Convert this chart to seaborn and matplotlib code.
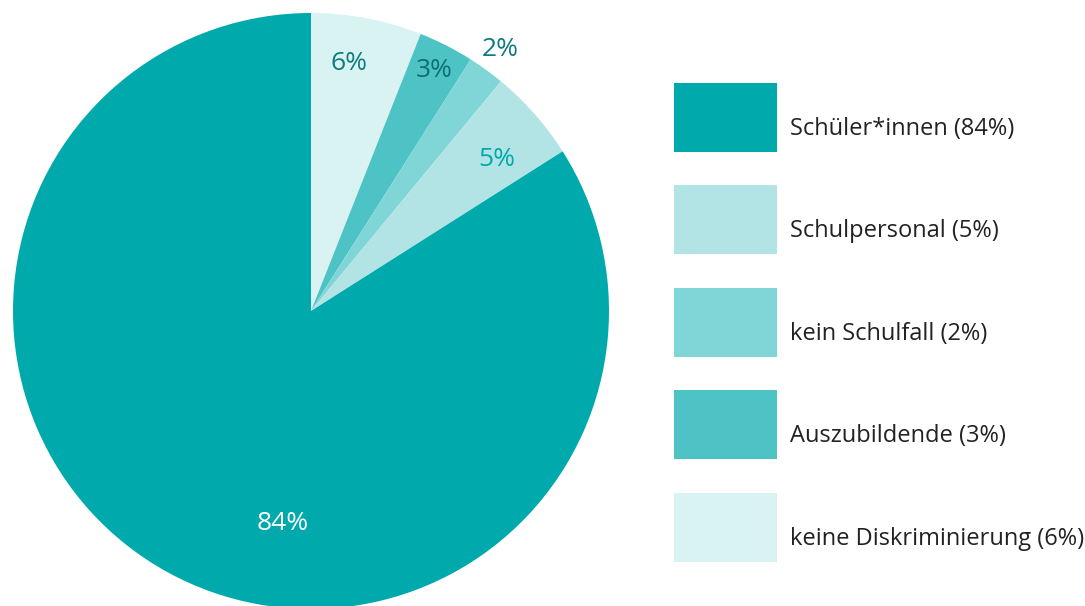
import matplotlib
matplotlib.use("Agg")
import matplotlib.pyplot as plt
import seaborn as sns
import numpy as np
from matplotlib.patches import Patch, Rectangle
from matplotlib.legend_handler import HandlerPatch

sns.set_theme(style="white")
plt.rcParams['font.family'] = ['Open Sans', 'DejaVu Sans']

# pie order (clockwise from 12 o'clock)
categories = ["keine Diskriminierung", "Auszubildende", "kein Schulfall", "Schulpersonal", "Schüler*innen"]
values = [6, 3, 2, 5, 84]
colors = ["#D9F2F2", "#4DC3C5", "#80D5D6", "#B2E4E5", "#00A9AC"]
label_colors = ["#0E7B80", "#0E6F73", "#0E7B80", "#00A9AC", "#FFFFFF"]
label_r = [0.85, 0.915, 1.09, 0.81, 0.71]
label_dtheta = [2.2, 0.2, 0.4, -1.6, 21.2]

# legend order
legend_order = ["Schüler*innen", "Schulpersonal", "kein Schulfall", "Auszubildende", "keine Diskriminierung"]

W, H = 1085, 606
fig = plt.figure(figsize=(W / 100, H / 100), dpi=100)
ax = fig.add_axes([0, 0, 1, 1])
cx, cy, R = 311, 311, 298

wedges, texts, autotexts = ax.pie(values, colors=colors, startangle=90, counterclock=False,
                                  autopct="%d%%", pctdistance=0.8, radius=1,
                                  wedgeprops=dict(linewidth=0))
for w, t, r, dt, c in zip(wedges, autotexts, label_r, label_dtheta, label_colors):
    mid = np.deg2rad((w.theta1 + w.theta2) / 2 + dt)
    t.set_position((r * np.cos(mid), r * np.sin(mid)))
    t.set_color(c)
    t.set_fontsize(19)
    t.set_ha("center")
    t.set_va("center_baseline")

ax.set_aspect("auto")
ax.set_xlim(-cx / R, (W - cx) / R)
ax.set_ylim(-(H - cy) / R, cy / R)
ax.axis("off")

cmap = dict(zip(categories, colors))
pct = dict(zip(categories, values))
handles = [Patch(facecolor=cmap[c], edgecolor="none") for c in legend_order]
labels = [f"{c} ({pct[c]}%)" for c in legend_order]

fs = 17
px2pt = 0.72
patch_w, patch_h = 103 * px2pt, 69 * px2pt
below_px = 17
below_base = below_px * px2pt


def make_rect(legend, orig_handle, xdescent, ydescent, width, height, fontsize):
    return Rectangle((-xdescent, -below_base), patch_w, patch_h)


hh = (patch_h / fs - 0.245) / 0.65
descent_px = 0.35 * fs * (hh - 0.7) / px2pt
top_offset = patch_h / px2pt - below_px - (patch_h / px2pt - descent_px)  # rect top above box top
leg = fig.legend(handles, labels, loc="upper left",
                 bbox_to_anchor=(674 / W, 1 - (83 + top_offset) / H),
                 frameon=False, fontsize=fs, handlelength=patch_w / fs, handleheight=hh,
                 labelspacing=33.5 * px2pt / fs, handletextpad=13 * px2pt / fs,
                 borderpad=0, borderaxespad=0, labelcolor="#222222",
                 handler_map={Patch: HandlerPatch(patch_func=make_rect)})

fig.savefig("out.png", dpi=100)
